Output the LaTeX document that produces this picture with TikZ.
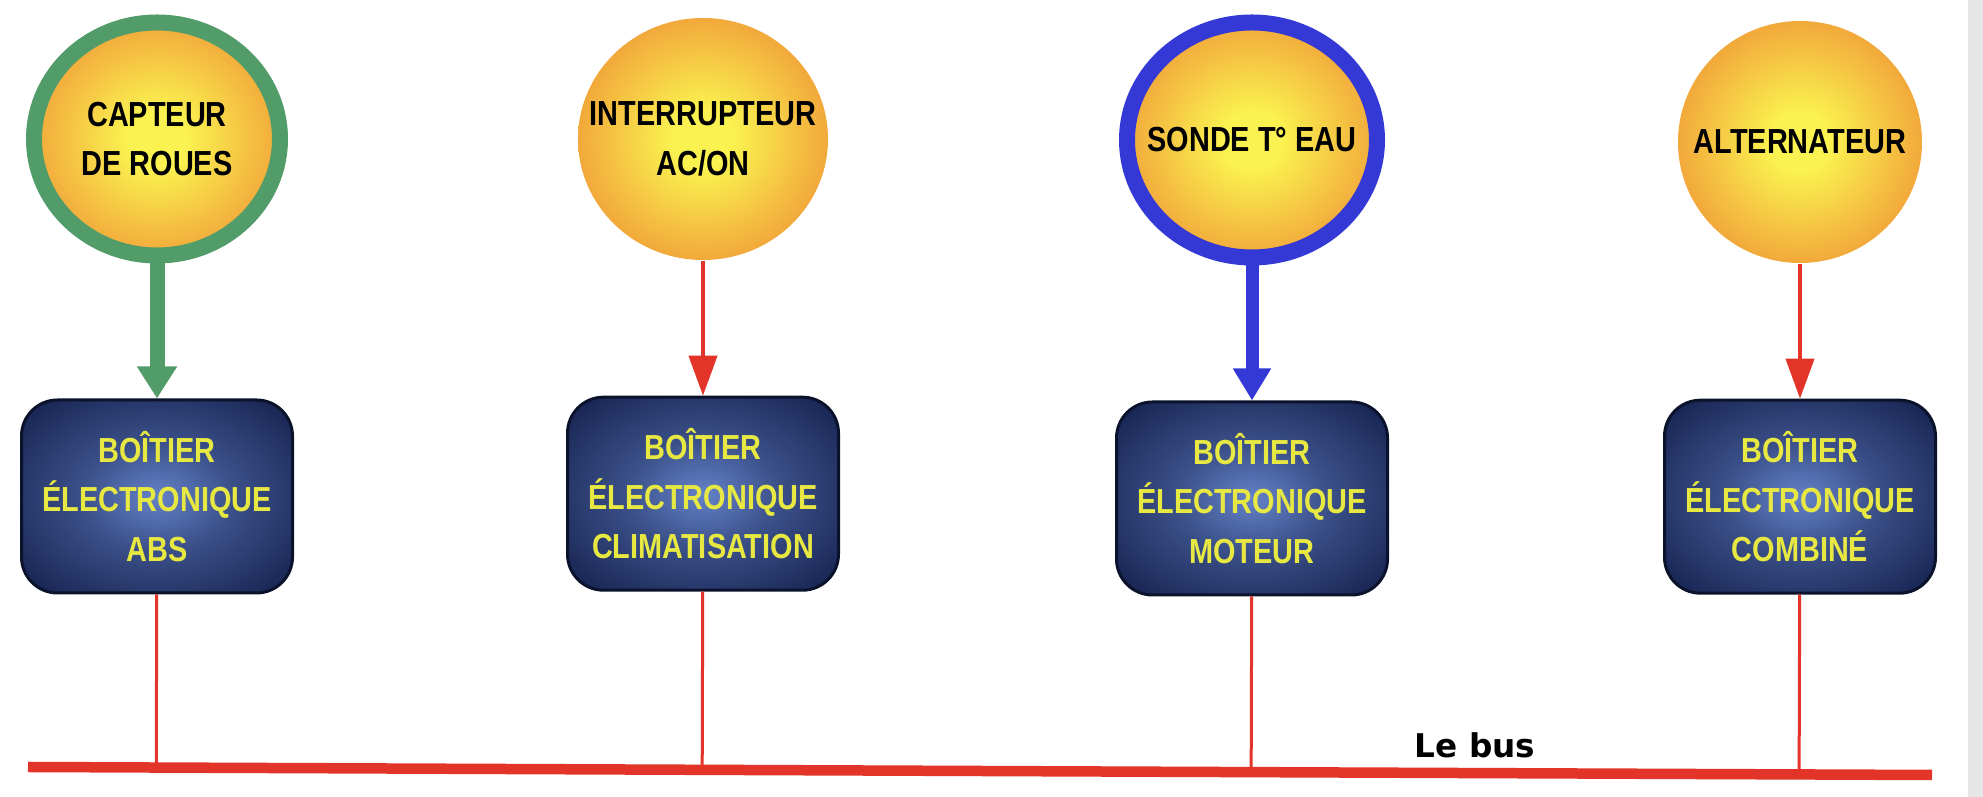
\documentclass[tikz,border=0pt]{standalone}
\usepackage{fontspec}
\usepackage{xcolor}
\usepackage{tikz}
\usetikzlibrary{shapes.geometric,arrows.meta,positioning,calc}

\newfontfamily\labelfont[FakeStretch=0.83]{Liberation Sans}
\newfontfamily\busfont{DejaVu Sans}

\definecolor{sunyellow}{RGB}{250,242,80}
\definecolor{sunorange}{RGB}{238,132,48}
\definecolor{boxnavy}{RGB}{18,30,74}
\definecolor{glowblue}{RGB}{100,130,200}
\definecolor{boxtext}{RGB}{232,232,66}
\definecolor{ringgreen}{RGB}{82,156,106}
\definecolor{ringblue}{RGB}{52,56,212}
\definecolor{wirered}{RGB}{226,52,40}
\definecolor{sidegrey}{RGB}{230,230,230}

\pgfdeclareradialshading{sunball}{\pgfpoint{0bp}{0bp}}{%
  color(0bp)=(sunyellow); color(6bp)=(sunyellow); color(26bp)=(sunorange!70!sunyellow);
  color(40bp)=(sunorange); color(50bp)=(sunorange!88!red)}
\pgfdeclareradialshading{navyglow}{\pgfpoint{0bp}{0bp}}{%
  color(0bp)=(glowblue); color(14bp)=(boxnavy!50!glowblue); color(36bp)=(boxnavy); color(75bp)=(boxnavy)}

\begin{document}
\begin{tikzpicture}[
    x=0.1mm, y=-0.1mm,
    node distance=13.5mm,
    sensor/.style={ellipse, shade, shading=sunball, inner xsep=-6mm, inner ysep=0pt,
        minimum width=25mm, minimum height=24.2mm, align=center, text=black,
        font=\labelfont\bfseries\fontsize{9.9}{14.2}\selectfont},
    ecu/.style={rectangle, rounded corners=3.6mm, draw=boxnavy!60!black, line width=0.3mm,
        shade, shading=navyglow, minimum width=27.1mm, minimum height=19.3mm, align=center,
        text=boxtext, font=\labelfont\bfseries\fontsize{9.9}{14}\selectfont},
    wire/.style={draw=wirered, line width=0.3mm},
    redarrow/.style={wirered, line width=0.4mm, -{Triangle[width=2.8mm,length=4mm]}},
    greenarrow/.style={ringgreen, line width=1.5mm, -{Triangle[width=3.8mm,length=3.2mm]}},
    bluearrow/.style={ringblue, line width=1.3mm, -{Triangle[width=3.6mm,length=3.2mm]}},
    tag/.style={font=\busfont\bfseries\fontsize{9.3}{11}\selectfont, inner sep=0pt}
]
    \fill[white] (0,0) rectangle (1983,797);
    \useasboundingbox (0,0) rectangle (1983,797);
    \fill[sidegrey] (1968,0) rectangle (1983,797);

    % capteurs
    \node[sensor, draw=ringgreen, line width=1.6mm, minimum width=24.6mm, minimum height=23.3mm]
        (capteur) at (157,139) {CAPTEUR\\DE ROUES};
    \node[sensor] (inter) at (703,139) {INTERRUPTEUR\\AC/ON};
    \node[sensor, draw=ringblue, line width=1.6mm, minimum width=25mm, minimum height=23.5mm]
        (sonde) at (1252,140) {SONDE T° EAU};
    \node[sensor, minimum width=24.4mm] (alter) at (1800,142) {ALTERNATEUR};

    % boitiers
    \node[ecu, below=of capteur] (abs) {BOÎTIER\\ÉLECTRONIQUE\\ABS};
    \node[ecu, below=of inter] (clim) {BOÎTIER\\ÉLECTRONIQUE\\CLIMATISATION};
    \node[ecu, below=of sonde] (moteur) {BOÎTIER\\ÉLECTRONIQUE\\MOTEUR};
    \node[ecu, below=of alter] (combine) {BOÎTIER\\ÉLECTRONIQUE\\COMBINÉ};

    \draw[greenarrow] (capteur) -- (abs);
    \draw[redarrow] (inter) -- (clim);
    \draw[bluearrow] (sonde) -- (moteur);
    \draw[redarrow] (alter) -- (combine);

    % le bus
    \coordinate (busL) at (28,767);
    \coordinate (busR) at (1932,775);
    \coordinate (tapabs) at ($(busL)!(abs.south)!(busR)$);
    \coordinate (tapclim) at ($(busL)!(clim.south)!(busR)$);
    \coordinate (tapmoteur) at ($(busL)!(moteur.south)!(busR)$);
    \coordinate (tapcombine) at ($(busL)!(combine.south)!(busR)$);

    \draw[wire] (abs) -- (tapabs);
    \draw[wire] (clim) -- (tapclim);
    \draw[wire] (moteur) -- (tapmoteur);
    \draw[wire] (combine) -- (tapcombine);
    \draw[wirered, line width=1.05mm] (busL) -- (busR);

    \node[tag] (bustext) at (1475,745) {Le bus};
\end{tikzpicture}
\end{document}
